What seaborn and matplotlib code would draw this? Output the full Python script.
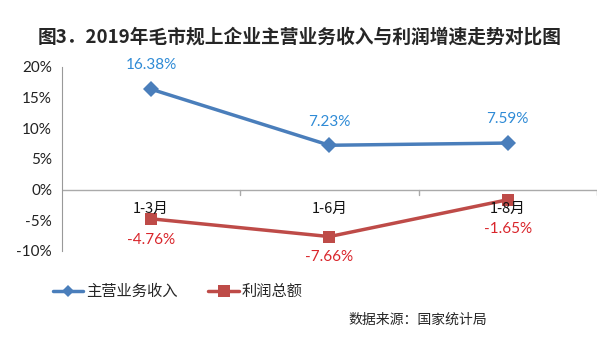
import numpy as np
import pandas as pd
import matplotlib
matplotlib.use('Agg')
import matplotlib.pyplot as plt
import seaborn as sns
from matplotlib.lines import Line2D

# --- data ---
periods = ['1-3月', '1-6月', '1-8月']
revenue = [16.38, 7.23, 7.59]
profit = [-4.76, -7.66, -1.65]
series_names = ['主营业务收入', '利润总额']
y_ticks = [-10, -5, 0, 5, 10, 15, 20]

TITLE = '图3．2019年毛市规上企业主营业务收入与利润增速走势对比图'
SOURCE = '数据来源：国家统计局'

BLUE = '#4a7ebb'
RED = '#be4b48'
BLUE_TXT = '#2f8bd6'
RED_TXT = '#d9252b'

sns.set_style('white')
plt.rcParams['font.family'] = ['Lato', 'Noto Sans CJK SC', 'DejaVu Sans']

df = pd.DataFrame({
    'idx': list(range(len(periods))) * 2,
    'value': revenue + profit,
    'series': [series_names[0]] * len(periods) + [series_names[1]] * len(periods),
})

fig = plt.figure(figsize=(6, 3.6), dpi=100)
ax = fig.add_axes([0.103, 0.303, 0.892, 0.511])

sns.lineplot(data=df, x='idx', y='value', hue='series', style='series',
             palette=[BLUE, RED], markers=['D', 's'], dashes=False,
             markersize=8, linewidth=2.5, markeredgewidth=0, ax=ax, legend=False)

ax.set_xlim(-0.5, len(periods) - 0.5)
ax.set_ylim(-10, 20)
ax.set_yticks(y_ticks)
ax.set_yticklabels([f'{t}%' for t in y_ticks], fontsize=11, color='#222222')
ax.tick_params(axis='y', length=4, color='#999999', pad=3)
ax.set_xticks([])
ax.set_xlabel('')
ax.set_ylabel('')

for s in ['top', 'right', 'bottom']:
    ax.spines[s].set_visible(False)
ax.spines['left'].set_color('#999999')

# zero axis line with between-category ticks
ax.axhline(0, color='#aaaaaa', lw=1, zorder=1)
for xt in np.arange(0.5, len(periods), 1.0):
    ax.plot([xt, xt], [0, -0.8], color='#aaaaaa', lw=1, zorder=1)

# category labels under the zero line
for i, p in enumerate(periods):
    ax.annotate(p, (i, 0), xytext=(0, -9), textcoords='offset points',
                ha='center', va='top', fontsize=10.5, color='#111111',
                family=['Noto Sans CJK SC', 'DejaVu Sans'], zorder=5)

# data labels
for i, v in enumerate(revenue):
    ax.annotate(f'{v:.2f}%', (i, v), xytext=(0, 12), textcoords='offset points',
                ha='center', va='bottom', fontsize=11, color=BLUE_TXT)
offs = [-10, -10, -16]
for i, v in enumerate(profit):
    ax.annotate(f'{v:.2f}%', (i, v), xytext=(0, offs[i]), textcoords='offset points',
                ha='center', va='top', fontsize=11, color=RED_TXT)

fig.text(0.5, 0.897, TITLE, ha='center', va='center', fontsize=13.5,
         fontweight='bold', family=['Noto Sans CJK SC', 'DejaVu Sans'])

# legend
handles = [Line2D([], [], color=BLUE, lw=2.5, marker='D', markersize=6, markeredgewidth=0),
           Line2D([], [], color=RED, lw=2.5, marker='s', markersize=8, markeredgewidth=0)]
leg = fig.legend(handles, series_names, loc='center left', bbox_to_anchor=(0.065, 0.19),
                 ncol=2, frameon=False, handlelength=2.0, handletextpad=0.2,
                 columnspacing=2.0, prop={'family': ['Noto Sans CJK SC'], 'size': 11})

fig.text(0.697, 0.111, SOURCE, ha='center', va='center', fontsize=10,
         family=['Noto Sans CJK SC', 'DejaVu Sans'])

fig.savefig('out.png', dpi=100)
